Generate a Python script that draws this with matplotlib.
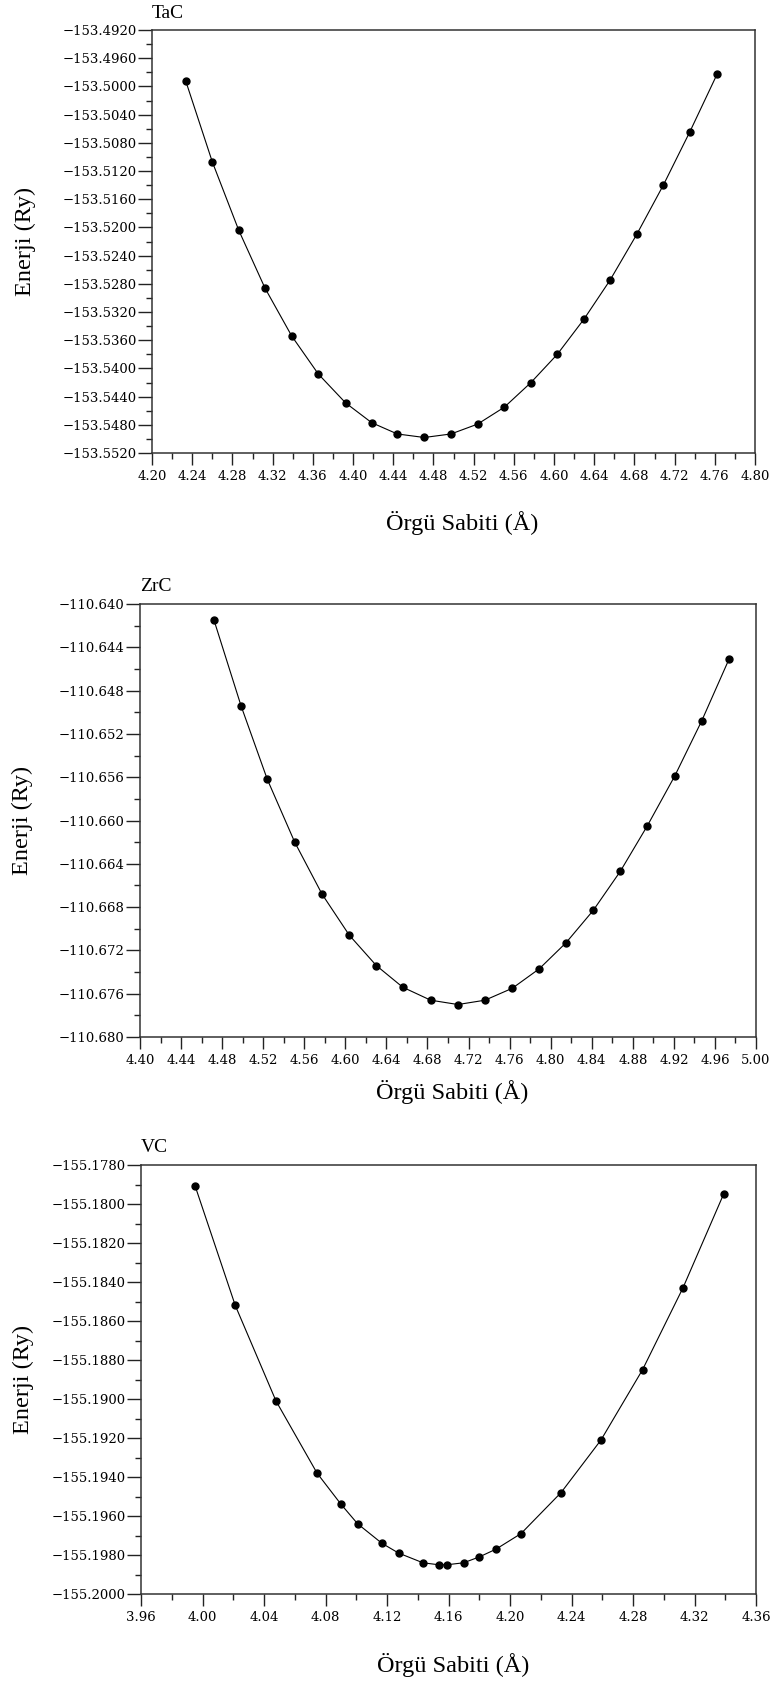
import matplotlib
matplotlib.use("Agg")
import matplotlib.pyplot as plt
from matplotlib.ticker import MultipleLocator, FuncFormatter

# TaC
tac_a = [4.2335, 4.2600, 4.2863, 4.3124, 4.3390, 4.3655, 4.3927, 4.4186, 4.4441, 4.4709,
         4.4975, 4.5240, 4.5506, 4.5771, 4.6033, 4.6299, 4.6557, 4.6823, 4.7088, 4.7353, 4.7625]
tac_e = [-153.4992, -153.5107, -153.5204, -153.5286, -153.5354, -153.5408, -153.5449, -153.5477,
         -153.5493, -153.5498, -153.5493, -153.5479, -153.5455, -153.5420, -153.5380, -153.5330,
         -153.5275, -153.5210, -153.5140, -153.5064, -153.4982]

# ZrC
zrc_a = [4.4721, 4.4984, 4.5240, 4.5507, 4.5773, 4.6039, 4.6302, 4.6559, 4.6831, 4.7097,
         4.7360, 4.7626, 4.7889, 4.8149, 4.8415, 4.8678, 4.8941, 4.9208, 4.9471, 4.9737]
zrc_e = [-110.6415, -110.6494, -110.6562, -110.6620, -110.6668, -110.6706, -110.6734, -110.6754,
         -110.6766, -110.6770, -110.6766, -110.6755, -110.6737, -110.6713, -110.6683, -110.6647,
         -110.6605, -110.6559, -110.6508, -110.6451]

# VC
vc_a = [3.9953, 4.0213, 4.0478, 4.0745, 4.0901, 4.1009, 4.1167, 4.1275, 4.1434, 4.1536,
        4.1590, 4.1698, 4.1800, 4.1909, 4.2072, 4.2332, 4.2592, 4.2862, 4.3125, 4.3389]
vc_e = [-155.1791, -155.1852, -155.1901, -155.1938, -155.1954, -155.1964, -155.1974, -155.1979,
        -155.1984, -155.1985, -155.1985, -155.1984, -155.1981, -155.1977, -155.1969, -155.1948,
        -155.1921, -155.1885, -155.1843, -155.1795]

names = ["TaC", "ZrC", "VC"]
xlabel = "Örgü Sabiti (Å)"
ylabel = "Enerji (Ry)"

W, H = 773, 1689
serif = ["Liberation Serif", "DejaVu Serif"]
tickfont = "DejaVu Serif"


def px_axes(left, top, right, bottom):
    return [left / W, 1 - bottom / H, (right - left) / W, (bottom - top) / H]


def minus_fmt(digits):
    return FuncFormatter(lambda v, pos: ("%.*f" % (digits, v)).replace("-", "\u2212"))


def draw_panel(ax, a, e, name, xlim, ylim, xstep, ystep, ydig, xlab_pos, ylab_pos):
    ax.plot(a, e, color="black", lw=0.8, marker="o", ms=5, mfc="black", mec="black")
    ax.set_xlim(*xlim)
    ax.set_ylim(*ylim)
    ax.xaxis.set_major_locator(MultipleLocator(xstep))
    ax.xaxis.set_minor_locator(MultipleLocator(xstep / 2))
    ax.yaxis.set_major_locator(MultipleLocator(ystep))
    ax.yaxis.set_minor_locator(MultipleLocator(ystep / 2))
    ax.xaxis.set_major_formatter(minus_fmt(2))
    ax.yaxis.set_major_formatter(minus_fmt(ydig))
    ax.tick_params(axis="x", which="major", direction="out", length=8.5, width=1, pad=4,
                   labelsize=9.5, color="#222222")
    ax.tick_params(axis="x", which="minor", direction="out", length=4.5, width=1, color="#222222")
    ax.tick_params(axis="y", which="major", direction="out", length=10, width=1, pad=1,
                   labelsize=9.5, color="#222222")
    ax.tick_params(axis="y", which="minor", direction="out", length=4, width=1, color="#222222")
    for lab in ax.get_xticklabels() + ax.get_yticklabels():
        lab.set_family(tickfont)
    for sp in ax.spines.values():
        sp.set_color("#333333")
        sp.set_linewidth(1.1)
    ax.set_xlabel(xlabel, fontsize=17.5, family=serif, va="center")
    ax.set_ylabel(ylabel, fontsize=17.5, family=serif, va="center")
    ax.xaxis.set_label_coords(*xlab_pos)
    ax.yaxis.set_label_coords(*ylab_pos)
    ax.text(0.0, 1.02, name, transform=ax.transAxes, fontsize=14, family=serif,
            ha="left", va="bottom")


fig = plt.figure(figsize=(W / 100, H / 100), dpi=100)

ax1 = fig.add_axes(px_axes(152, 30, 755, 453))
draw_panel(ax1, tac_a, tac_e, names[0], (4.20, 4.80), (-153.5520, -153.4920),
           0.04, 0.004, 4, (0.514, -0.165), (-0.2106, 0.5))

ax2 = fig.add_axes(px_axes(140, 604, 756, 1037))
draw_panel(ax2, zrc_a, zrc_e, names[1], (4.40, 5.00), (-110.680, -110.640),
           0.04, 0.004, 3, (0.506, -0.127), (-0.1916, 0.5))

ax3 = fig.add_axes(px_axes(141, 1165, 756, 1594))
draw_panel(ax3, vc_a, vc_e, names[2], (3.96, 4.36), (-155.2000, -155.1780),
           0.04, 0.002, 4, (0.507, -0.165), (-0.192, 0.5))

fig.savefig("out.png", dpi=100)
